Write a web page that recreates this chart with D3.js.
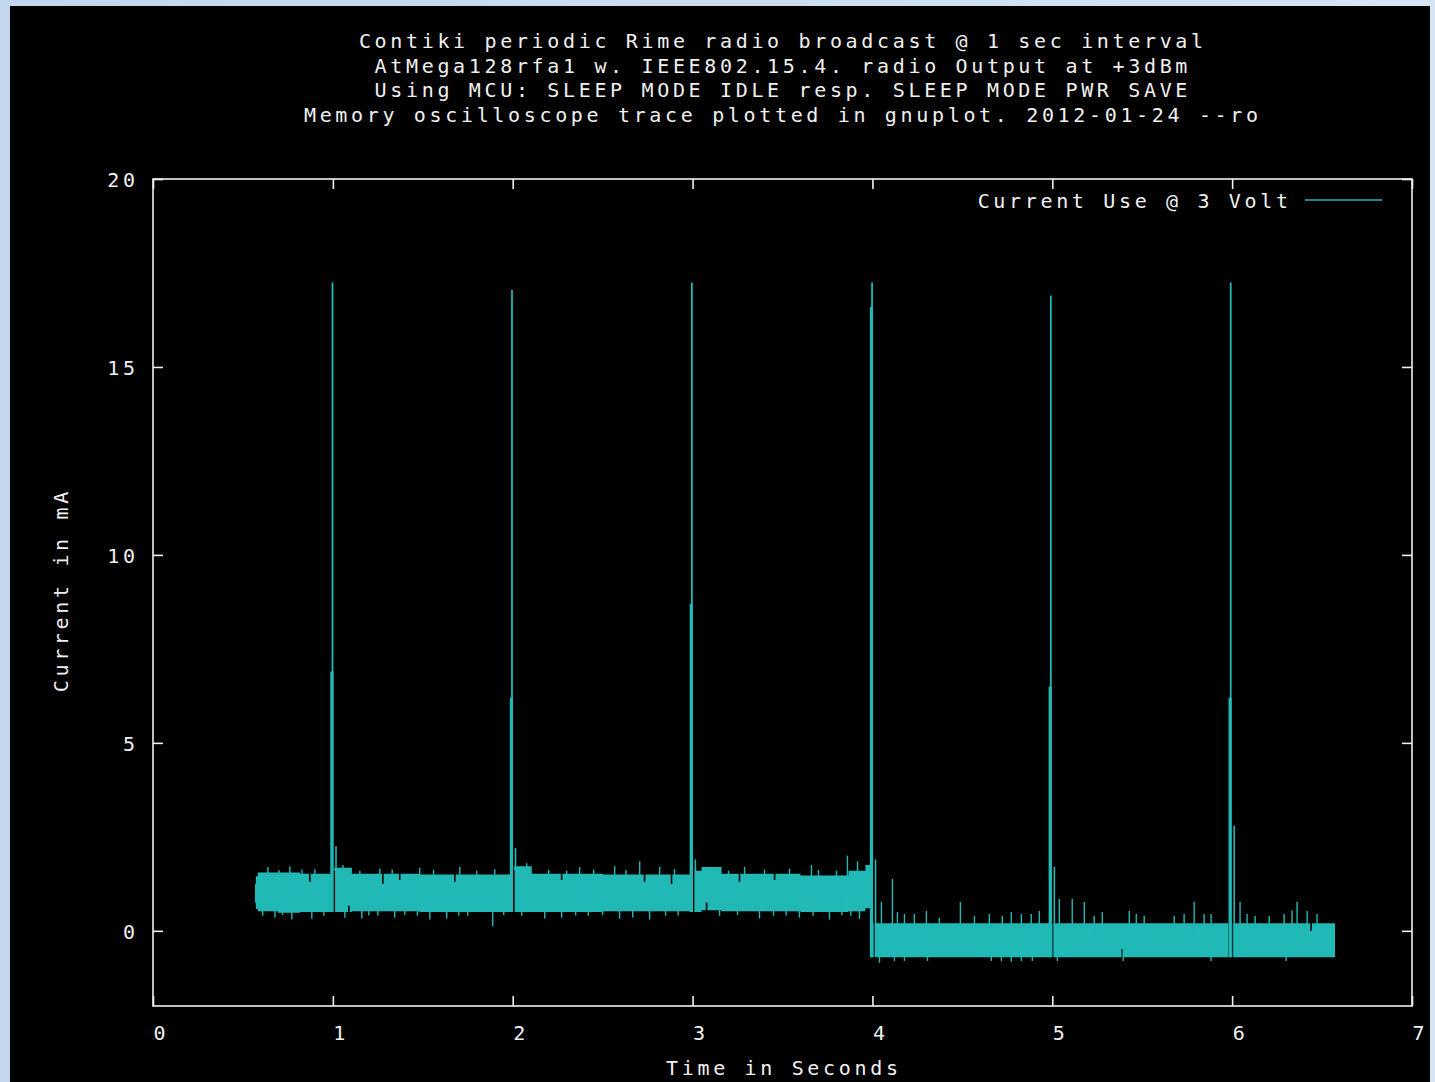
<!DOCTYPE html>
<html><head><meta charset="utf-8">
<script src="https://cdn.jsdelivr.net/npm/d3@7"></script>
<style>
html,body{margin:0;padding:0;}
body{width:1435px;height:1082px;background:linear-gradient(to right,#c2d7ee,#d4e4f5);overflow:hidden;}
svg{position:absolute;left:0;top:0;}
</style></head><body>
<svg id="c" width="1435" height="1082"></svg>
<script>
// ---------- data ----------
const titleLines = [
  "Contiki periodic Rime radio broadcast @ 1 sec interval",
  "AtMega128rfa1 w. IEEE802.15.4. radio Output at +3dBm",
  "Using MCU: SLEEP MODE IDLE resp. SLEEP MODE PWR SAVE",
  "Memory oscilloscope trace plotted in gnuplot. 2012-01-24 --ro"
];
const xLabel = "Time in Seconds";
const yLabel = "Current in mA";
const legendLabel = "Current Use @ 3 Volt";
const xTicks = [0, 1, 2, 3, 4, 5, 6, 7];
const yTicks = [0, 5, 10, 15, 20];

// envelope of the dense noisy trace (seconds, upper mA, lower mA); null = break
const bandT  = [0.567,0.572,0.583,0.694,0.817,0.989,0.997,1.008,1.106,1.483,1.994,2.000,2.008,2.106,2.500,2.994,3.000,3.008,3.050,3.161,3.600,3.867,3.961,3.997,4.000,4.003,4.983,4.989,4.997,5.978,5.989,5.997,6.572];
const bandHi = [1.25,1.45,1.55,1.55,1.52,1.52,null,1.68,1.52,1.50,1.50,null,1.72,1.52,1.50,1.52,null,1.60,1.70,1.52,1.47,1.60,1.75,1.75,null,0.20,0.20,null,0.20,0.20,null,0.20,0.20];
const bandLo = [0.75,0.58,0.52,0.48,0.50,0.50,null,0.50,0.52,0.50,0.50,null,0.50,0.50,0.52,0.50,null,0.50,0.55,0.52,0.50,0.52,0.60,0.60,null,-0.70,-0.70,null,-0.70,-0.70,null,-0.70,-0.70];

// transmit spikes
const spikeT     = [0.998, 1.996, 2.996, 3.998, 4.992, 5.992];
const spikePeak  = [17.25, 17.05, 17.25, 17.25, 16.9, 17.25];
const spikeBody  = [6.9, 6.2, 8.7, 16.6, 6.5, 6.2];
const spikeFoot  = [0.5, 0.5, 0.5, -0.7, -0.7, -0.7];
const spikeAfter = [2.25, 2.2, 1.9, 1.9, 1.7, 2.8];

// isolated noise excursions outside the envelope
const noiseT = [0.639,0.761,0.828,1.056,1.261,1.483,1.706,2.078,2.372,2.567,2.706,2.817,3.289,3.539,3.661,3.861,3.917,
  0.700,0.900,1.150,1.330,1.560,1.800,1.900,2.200,2.300,2.450,2.630,2.900,3.120,3.200,3.400,3.700,3.800,
  0.678,0.772,0.883,1.067,1.161,1.344,1.539,1.633,1.889,2.178,2.272,2.594,2.667,2.761,3.372,3.594,3.761,3.928,
  0.610,0.720,0.950,1.200,1.250,1.400,1.470,1.700,1.750,1.950,2.050,2.350,2.420,2.500,2.850,2.920,3.150,3.250,3.450,3.520,3.670,3.830,3.880,
  4.050,4.111,4.139,4.178,4.233,4.300,4.372,4.489,4.567,4.650,4.722,4.772,4.828,4.883,4.928,5.039,5.111,5.178,5.233,5.278,5.428,5.467,5.511,5.678,5.733,5.789,5.844,5.883,6.044,6.083,6.128,6.206,6.289,6.333,6.361,6.417,6.472,
  4.039,4.122,4.178,4.306,4.661,4.717,4.772,4.828,4.889,5.028,5.394,5.883,6.300];
const noiseV = [1.7,1.72,1.63,1.75,1.65,1.68,1.7,1.8,1.7,1.72,1.85,1.7,1.7,1.65,1.75,2.0,1.85,
  1.62,1.64,1.6,1.63,1.62,1.6,1.64,1.62,1.6,1.63,1.62,1.64,1.62,1.6,1.63,1.62,1.6,
  0.35,0.3,0.32,0.35,0.33,0.35,0.3,0.33,0.12,0.33,0.35,0.32,0.35,0.3,0.33,0.35,0.3,0.32,
  0.4,0.42,0.4,0.41,0.4,0.42,0.4,0.41,0.4,0.42,0.4,0.41,0.4,0.42,0.4,0.41,0.4,0.42,0.4,0.41,0.4,0.42,0.4,
  0.77,1.38,0.5,0.45,0.45,0.53,0.35,0.77,0.4,0.45,0.4,0.5,0.45,0.45,0.53,0.85,0.85,0.77,0.4,0.5,0.53,0.45,0.4,0.4,0.45,0.77,0.45,0.45,0.77,0.45,0.4,0.4,0.45,0.55,0.77,0.53,0.45,
  -0.85,-0.8,-0.8,-0.8,-0.8,-0.8,-0.82,-0.8,-0.8,-0.8,-0.8,-0.8,-0.8];

// short dropouts cutting into the envelope
const dipT = [0.872,1.278,1.372,1.678,2.272,2.733,2.883,3.261,3.456,1.089,3.078,5.389,6.439];
const dipV = [1.3,1.25,1.35,1.3,1.35,1.3,1.25,1.3,1.35,0.67,0.75,-0.48,0.0];

// ---------- drawing ----------
const svg = d3.select("#c");
const W = 1435, H = 1082;
const FONT = "'DejaVu Sans Mono', 'Liberation Mono', monospace";
const FS = 20, LS = 3.66;
const TEAL = "#21b9b6";
const FG = "#f0f0f0";

svg.append("rect").attr("x", 10).attr("y", 6).attr("width", 1420).attr("height", H - 6).attr("fill", "#000");

const x = d3.scaleLinear().domain([0, 7]).range([153, 1412]);
const y = d3.scaleLinear().domain([-2, 20]).range([1006, 179]);

function txt(g) {
  return g.attr("font-family", FONT).attr("font-size", FS).attr("fill", FG).style("letter-spacing", LS + "px");
}

// titles
titleLines.forEach((s, i) => {
  txt(svg.append("text")).attr("x", 781 + LS / 2).attr("y", 48 + i * 24.5)
    .attr("text-anchor", "middle").text(s);
});

// band
const band = bandT.map((t, i) => ({t, hi: bandHi[i], lo: bandLo[i]}));
function envAt(t) {
  let i = d3.bisectRight(bandT, t) - 1;
  while (i > 0 && bandHi[i] == null) i--;
  return band[Math.max(0, i)];
}
const clipG = svg.append("g");
clipG.append("path").datum(band)
  .attr("d", d3.area().defined(d => d.hi != null).curve(d3.curveStepAfter)
    .x(d => x(d.t)).y0(d => y(d.lo)).y1(d => y(d.hi)))
  .attr("fill", TEAL);

// dips
clipG.selectAll(".dip").data(dipT.map((t, i) => ({t, v: dipV[i]}))).join("line")
  .attr("x1", d => x(d.t)).attr("x2", d => x(d.t))
  .attr("y1", d => { const e = envAt(d.t); return d.v > (e.hi + e.lo) / 2 ? y(e.hi) - 0.5 : y(e.lo) + 0.5; })
  .attr("y2", d => y(d.v))
  .attr("stroke", "#000").attr("stroke-width", 1.6);

// noise
clipG.selectAll(".nz").data(noiseT.map((t, i) => ({t, v: noiseV[i]}))).join("line")
  .attr("x1", d => x(d.t)).attr("x2", d => x(d.t))
  .attr("y1", d => { const e = envAt(d.t); return y((e.hi + e.lo) / 2); })
  .attr("y2", d => y(d.v))
  .attr("stroke", TEAL).attr("stroke-width", 1.4);

// spikes
const spikes = spikeT.map((t, i) => ({t, peak: spikePeak[i], body: spikeBody[i], foot: spikeFoot[i], after: spikeAfter[i]}));
const sg = svg.append("g");
sg.selectAll(".gap").data(spikes).join("line")
  .attr("x1", d => x(d.t) + 2.2).attr("x2", d => x(d.t) + 2.2)
  .attr("y1", d => y(d.foot) + 2).attr("y2", d => y(d.foot + 1.1))
  .attr("stroke", "#000").attr("stroke-width", 1.2);
sg.selectAll(".thin").data(spikes).join("line")
  .attr("x1", d => x(d.t)).attr("x2", d => x(d.t))
  .attr("y1", d => y(d.foot)).attr("y2", d => y(d.peak))
  .attr("stroke", TEAL).attr("stroke-width", 1.8);
sg.selectAll(".body").data(spikes).join("line")
  .attr("x1", d => x(d.t) - 0.6).attr("x2", d => x(d.t) - 0.6)
  .attr("y1", d => y(d.foot)).attr("y2", d => y(d.body))
  .attr("stroke", TEAL).attr("stroke-width", 3.2);
sg.selectAll(".after").data(spikes).join("line")
  .attr("x1", d => x(d.t) + 3.5).attr("x2", d => x(d.t) + 3.5)
  .attr("y1", d => y(d.foot)).attr("y2", d => y(d.after))
  .attr("stroke", TEAL).attr("stroke-width", 1.6);

// frame & axes
svg.append("rect").attr("x", x(0)).attr("y", y(20)).attr("width", x(7) - x(0)).attr("height", y(-2) - y(20))
  .attr("fill", "none").attr("stroke", FG).attr("stroke-width", 1.6);

function styleAxis(g) {
  g.select(".domain").remove();
  g.selectAll(".tick line").attr("stroke", FG).attr("stroke-width", 1.6);
  g.selectAll("text").attr("fill", FG).attr("font-family", FONT).attr("font-size", FS).style("letter-spacing", LS + "px");
}
const gb = svg.append("g").attr("transform", `translate(0,${y(-2)})`)
  .call(d3.axisBottom(x).tickValues(xTicks).tickSize(-10).tickFormat(d3.format("d")));
styleAxis(gb);
gb.selectAll("text").attr("y", 34).attr("dy", null).attr("dx", 6 + LS / 2);
const gt = svg.append("g").attr("transform", `translate(0,${y(20)})`)
  .call(d3.axisTop(x).tickValues(xTicks).tickSize(-10).tickFormat(""));
styleAxis(gt);
const gl = svg.append("g").attr("transform", `translate(${x(0)},0)`)
  .call(d3.axisLeft(y).tickValues(yTicks).tickSize(-10).tickFormat(d3.format("d")));
styleAxis(gl);
gl.selectAll("text").attr("x", -18 + LS).attr("dy", "0.36em");
const gr = svg.append("g").attr("transform", `translate(${x(7)},0)`)
  .call(d3.axisRight(y).tickValues(yTicks).tickSize(-10).tickFormat(""));
styleAxis(gr);

// axis titles
txt(svg.append("text")).attr("x", 782 + LS / 2).attr("y", 1075).attr("text-anchor", "middle").text(xLabel);
txt(svg.append("text")).attr("transform", `translate(68,${592 - LS / 2}) rotate(-90)`).attr("text-anchor", "middle").text(yLabel);

// legend
txt(svg.append("text")).attr("x", 1288 + LS).attr("y", 208).attr("text-anchor", "end").text(legendLabel);
svg.append("line").attr("x1", 1305).attr("x2", 1382).attr("y1", 200).attr("y2", 200)
  .attr("stroke", TEAL).attr("stroke-width", 1.6);
</script></body></html>
